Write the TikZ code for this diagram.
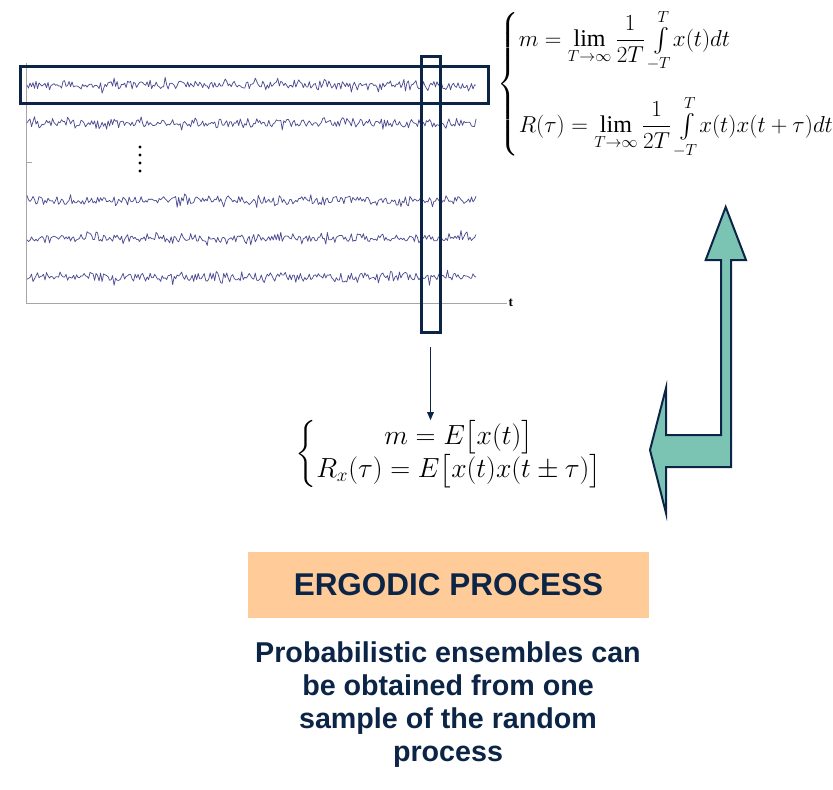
\documentclass[tikz,border=0pt]{standalone}
\usepackage{amsmath, amssymb}
\usepackage{fontspec}
\setmainfont{Liberation Serif}
\newfontfamily\arialbf{Liberation Sans}[BoldFont=* Bold]
\definecolor{ErgNavy}{HTML}{0C2547}
\definecolor{ErgTrace}{HTML}{4C4C92}
\definecolor{ErgGreen}{HTML}{7BC4B4}
\definecolor{ErgPeach}{HTML}{FFCC99}
\usetikzlibrary{arrows.meta, positioning, fit}

\begin{document}
\begin{tikzpicture}[
        x=0.75pt, y=-0.75pt,
        frame/.style={draw=ErgNavy, line width=2.25pt, inner sep=0pt},
        trace/.style={ErgTrace, line width=0.55pt, line join=round},
        axis/.style={draw=gray!70, line width=0.7pt},
        arr/.style={-{Triangle[length=6pt, width=5pt]}, line width=0.9pt, ErgNavy},
        eqn/.style={font=\fontsize{18}{22}\selectfont, inner sep=0pt},
        bigarrow/.style={draw=ErgNavy, fill=ErgGreen, line width=1.5pt, line join=miter},
        title/.style={fill=ErgPeach, text=ErgNavy, font=\arialbf\bfseries\fontsize{23.6}{28}\selectfont, minimum width=300.75pt, minimum height=49.5pt},
        note/.style={text=ErgNavy, align=center, font=\arialbf\bfseries\fontsize{21.5}{24.75}\selectfont}
    ]
        \useasboundingbox (0,0) rectangle (833,790);

        \draw[axis] (26,63) |- (507,303);
        \draw[axis] (26,162) -- (32,162);
        \node[right=0pt, inner sep=1pt, font=\fontsize{10}{12}\selectfont\bfseries] (tlab) at (507,303) {t};

        \pgfmathsetseed{4711}
        \foreach \yc in {85,123,200,238,277}
            \draw[trace] plot[domain=27:476, samples=300] (\x, {\yc + 3.8*rand + 8*rand*rand*rand});
        \foreach \yy in {147,155,163,171}
            \fill (140,\yy) circle[radius=1.3pt];

        \node[frame, fit={(20,66) (488,103)}] (rowbox) {};
        \node[frame, fit={(421,56) (440,332)}] (colbox) {};

        \node[eqn] (timeavg) at (666,84) {$\left\{\begin{array}{@{}l@{}}
            m=\displaystyle\lim_{T\to\infty}\frac{1}{2T}\,{\textstyle\int\limits_{-T}^{T}}x(t)dt\\[30pt]
            R(\tau)=\displaystyle\lim_{T\to\infty}\frac{1}{2T}\,{\textstyle\int\limits_{-T}^{T}}x(t)x(t+\tau)dt
            \end{array}\right.$};
        \node[eqn, font=\fontsize{21}{23}\selectfont] (ensavg) at (449,454) {$\left\{\begin{array}{@{}c@{}}
            m=E\bigl[x(t)\bigr]\\
            R_x(\tau)=E\bigl[x(t)x(t\pm\tau)\bigr]
            \end{array}\right.$};

        \draw[arr, shorten <=10pt] (colbox.south) -- (colbox.south |- ensavg.north);

        \draw[bigarrow] (725.7,207) -- (746,260) -- (731,260) -- (731,467) -- (666,467)
            -- (666,513) -- (650,450) -- (666,388) -- (666,435) -- (721,435)
            -- (721,260) -- (705.7,260) -- cycle;

        \node[title] (ergo) at (448.5,585) {ERGODIC PROCESS};
        \node[note] (claim) at (448,705) {Probabilistic ensembles can\\be obtained from one\\sample of the random\\process};
    \end{tikzpicture}
\end{document}
